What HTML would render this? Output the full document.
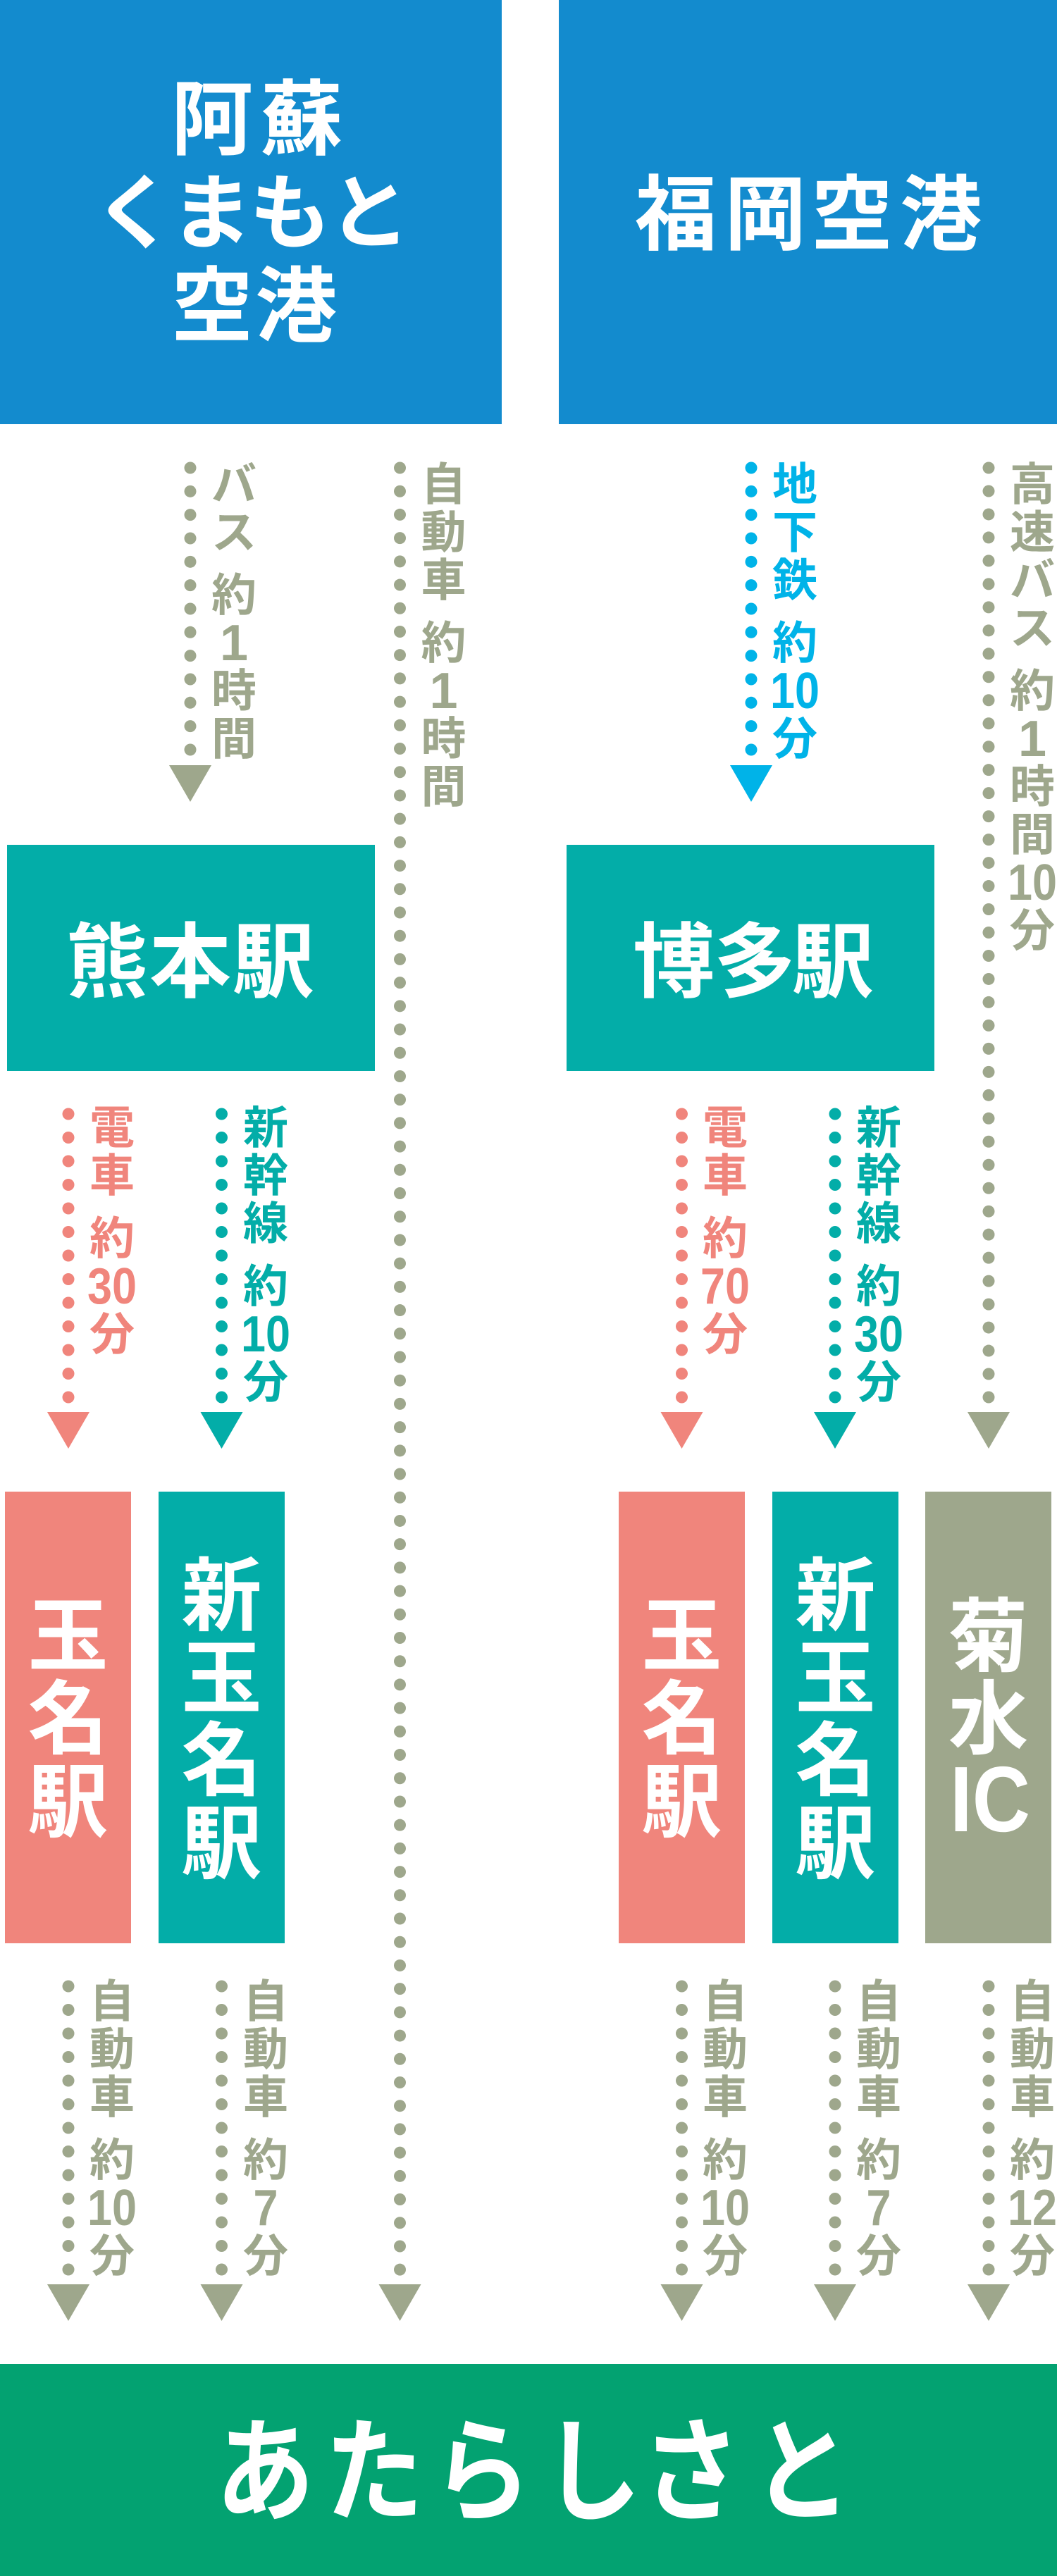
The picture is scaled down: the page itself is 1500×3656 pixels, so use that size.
<!DOCTYPE html>
<html>
<head>
<meta charset="utf-8">
<style>
  html,body{margin:0;padding:0;background:#fff;}
  svg{display:block;}
  .cj{font-family:"Liberation Sans","Noto Sans CJK JP",sans-serif;font-weight:700;}
  .dg{font-family:"Liberation Sans","Noto Sans CJK JP",sans-serif;font-weight:700;}
</style>
</head>
<body>
<svg width="1500" height="3656" viewBox="0 0 1500 3656" xmlns="http://www.w3.org/2000/svg">
  <rect x="0" y="0" width="1500" height="3656" fill="#ffffff"/>

  <!-- Top blue boxes -->
  <rect x="0" y="0" width="712" height="602" fill="#138bce"/>
  <rect x="793" y="0" width="707" height="602" fill="#138bce"/>

  <g class="cj" fill="#ffffff" font-size="116" text-anchor="middle">
    <text x="301" y="210">阿</text>
    <text x="428" y="210">蘇</text>
    <text x="191" y="343">く</text>
    <text x="300" y="343">ま</text>
    <text x="412" y="343">も</text>
    <text x="524" y="343">と</text>
    <text x="301" y="475">空</text>
    <text x="420" y="475">港</text>

    <text x="959" y="345">福</text>
    <text x="1086" y="345">岡</text>
    <text x="1209" y="345">空</text>
    <text x="1335" y="345">港</text>
  </g>

  <!-- Station boxes -->
  <rect x="10" y="1199" width="522" height="321" fill="#03ada8"/>
  <rect x="804" y="1199" width="522" height="321" fill="#03ada8"/>
  <g class="cj" fill="#ffffff" font-size="116" text-anchor="middle">
    <text x="152" y="1406">熊</text>
    <text x="270" y="1406">本</text>
    <text x="388" y="1406">駅</text>
    <text x="956" y="1406">博</text>
    <text x="1071" y="1406">多</text>
    <text x="1182" y="1406">駅</text>
  </g>

  <!-- Vertical destination boxes -->
  <rect x="7" y="2117" width="179" height="641" fill="#f0857c"/>
  <rect x="225" y="2117" width="179" height="641" fill="#03ada8"/>
  <rect x="878" y="2117" width="179" height="641" fill="#f0857c"/>
  <rect x="1096" y="2117" width="179" height="641" fill="#03ada8"/>
  <rect x="1313" y="2117" width="179" height="641" fill="#9ea78c"/>

  <g class="cj" fill="#ffffff" font-size="114" text-anchor="middle">
    <text x="96.5" y="2362">玉</text>
    <text x="96.5" y="2480">名</text>
    <text x="96.5" y="2598">駅</text>

    <text x="314.5" y="2305">新</text>
    <text x="314.5" y="2422">玉</text>
    <text x="314.5" y="2539">名</text>
    <text x="314.5" y="2657">駅</text>

    <text x="967.5" y="2362">玉</text>
    <text x="967.5" y="2480">名</text>
    <text x="967.5" y="2598">駅</text>

    <text x="1185.5" y="2305">新</text>
    <text x="1185.5" y="2422">玉</text>
    <text x="1185.5" y="2539">名</text>
    <text x="1185.5" y="2657">駅</text>

    <text x="1402.5" y="2363">菊</text>
    <text x="1402.5" y="2480">水</text>
  </g>
  <text class="dg" x="1405" y="2599" font-size="132" fill="#ffffff" text-anchor="middle" textLength="114" lengthAdjust="spacingAndGlyphs">IC</text>

  <!-- Bottom green box -->
  <rect x="0" y="3355" width="1500" height="301" fill="#03a271"/>
  <g class="cj" fill="#ffffff" font-size="140" text-anchor="middle" transform="translate(0,3504) scale(1,1.15) translate(0,-3504)">
    <text x="376" y="3557">あ</text>
    <text x="531" y="3557">た</text>
    <text x="684" y="3557">ら</text>
    <text x="840" y="3557">し</text>
    <text x="981" y="3557">さ</text>
    <text x="1138" y="3557">と</text>
  </g>

  <!-- Dotted connectors -->
  <g stroke-width="17" stroke-linecap="round" fill="none">
    <!-- top -->
    <line x1="270" y1="664" x2="270" y2="1064.5" stroke="#9ea78c" stroke-dasharray="0 33.33"/>
    <line x1="567.5" y1="664" x2="567.5" y2="3221.5" stroke="#9ea78c" stroke-dasharray="0 33.21"/>
    <line x1="1066" y1="664" x2="1066" y2="1064.5" stroke="#00b3e8" stroke-dasharray="0 33.33"/>
    <line x1="1403" y1="664" x2="1403" y2="1983.5" stroke="#9ea78c" stroke-dasharray="0 32.975"/>
    <!-- middle -->
    <line x1="97" y1="1581" x2="97" y2="1983.5" stroke="#f0857c" stroke-dasharray="0 33.5"/>
    <line x1="314.5" y1="1581" x2="314.5" y2="1983.5" stroke="#03ada8" stroke-dasharray="0 33.5"/>
    <line x1="967.5" y1="1581" x2="967.5" y2="1983.5" stroke="#f0857c" stroke-dasharray="0 33.5"/>
    <line x1="1185" y1="1581" x2="1185" y2="1983.5" stroke="#03ada8" stroke-dasharray="0 33.5"/>
    <!-- bottom -->
    <line x1="97" y1="2819" x2="97" y2="3221.5" stroke="#9ea78c" stroke-dasharray="0 33.5"/>
    <line x1="314.5" y1="2819" x2="314.5" y2="3221.5" stroke="#9ea78c" stroke-dasharray="0 33.5"/>
    <line x1="967.5" y1="2819" x2="967.5" y2="3221.5" stroke="#9ea78c" stroke-dasharray="0 33.5"/>
    <line x1="1185" y1="2819" x2="1185" y2="3221.5" stroke="#9ea78c" stroke-dasharray="0 33.5"/>
    <line x1="1403" y1="2819" x2="1403" y2="3221.5" stroke="#9ea78c" stroke-dasharray="0 33.5"/>
  </g>

  <!-- Arrowheads -->
  <polygon points="240,1086 300,1086 270,1138" fill="#9ea78c"/>
  <polygon points="1036,1086 1096,1086 1066,1138" fill="#00b3e8"/>

  <polygon points="67,2004 127,2004 97,2056" fill="#f0857c"/>
  <polygon points="284.5,2004 344.5,2004 314.5,2056" fill="#03ada8"/>
  <polygon points="937.5,2004 997.5,2004 967.5,2056" fill="#f0857c"/>
  <polygon points="1155,2004 1215,2004 1185,2056" fill="#03ada8"/>
  <polygon points="1373,2004 1433,2004 1403,2056" fill="#9ea78c"/>

  <polygon points="67,3242 127,3242 97,3294" fill="#9ea78c"/>
  <polygon points="284.5,3242 344.5,3242 314.5,3294" fill="#9ea78c"/>
  <polygon points="537.5,3242 597.5,3242 567.5,3294" fill="#9ea78c"/>
  <polygon points="937.5,3242 997.5,3242 967.5,3294" fill="#9ea78c"/>
  <polygon points="1155,3242 1215,3242 1185,3294" fill="#9ea78c"/>
  <polygon points="1373,3242 1433,3242 1403,3294" fill="#9ea78c"/>

  <!-- Connector labels: top -->
  <g class="cj" font-size="64" text-anchor="middle" fill="#9ea78c">
    <!-- バス 約1時間 -->
    <text x="332" y="710">バ</text>
    <text x="332" y="778">ス</text>
    <text x="332" y="867">約</text>
    <text x="332" y="1003">時</text>
    <text x="332" y="1071">間</text>
    <!-- 自動車 約1時間 -->
    <text x="629.5" y="710">自</text>
    <text x="629.5" y="778">動</text>
    <text x="629.5" y="846">車</text>
    <text x="629.5" y="935">約</text>
    <text x="629.5" y="1071">時</text>
    <text x="629.5" y="1139">間</text>
    <!-- 高速バス 約1時間10分 -->
    <text x="1465" y="710">高</text>
    <text x="1465" y="778">速</text>
    <text x="1465" y="846">バ</text>
    <text x="1465" y="914">ス</text>
    <text x="1465" y="1003">約</text>
    <text x="1465" y="1139">時</text>
    <text x="1465" y="1207">間</text>
    <text x="1465" y="1343">分</text>
  </g>
  <g class="dg" font-size="72" text-anchor="middle" fill="#9ea78c">
    <text x="332" y="937">1</text>
    <text x="629.5" y="1005">1</text>
    <text x="1465" y="1073">1</text>
    <text x="1465" y="1277" textLength="70" lengthAdjust="spacingAndGlyphs">10</text>
  </g>
  <g class="cj" font-size="64" text-anchor="middle" fill="#00b3e8">
    <text x="1128" y="710">地</text>
    <text x="1128" y="778">下</text>
    <text x="1128" y="846">鉄</text>
    <text x="1128" y="935">約</text>
    <text x="1128" y="1071">分</text>
  </g>
  <text class="dg" x="1128" y="1005" font-size="72" text-anchor="middle" fill="#00b3e8" textLength="70" lengthAdjust="spacingAndGlyphs">10</text>

  <!-- Connector labels: middle -->
  <g class="cj" font-size="64" text-anchor="middle" fill="#f0857c">
    <text x="159" y="1623">電</text>
    <text x="159" y="1691">車</text>
    <text x="159" y="1780">約</text>
    <text x="159" y="1916">分</text>
    <text x="1029" y="1623">電</text>
    <text x="1029" y="1691">車</text>
    <text x="1029" y="1780">約</text>
    <text x="1029" y="1916">分</text>
  </g>
  <g class="dg" font-size="72" text-anchor="middle" fill="#f0857c">
    <text x="159" y="1850" textLength="70" lengthAdjust="spacingAndGlyphs">30</text>
    <text x="1029" y="1850" textLength="70" lengthAdjust="spacingAndGlyphs">70</text>
  </g>
  <g class="cj" font-size="64" text-anchor="middle" fill="#03ada8">
    <text x="377" y="1623">新</text>
    <text x="377" y="1691">幹</text>
    <text x="377" y="1759">線</text>
    <text x="377" y="1848">約</text>
    <text x="377" y="1984">分</text>
    <text x="1247" y="1623">新</text>
    <text x="1247" y="1691">幹</text>
    <text x="1247" y="1759">線</text>
    <text x="1247" y="1848">約</text>
    <text x="1247" y="1984">分</text>
  </g>
  <g class="dg" font-size="72" text-anchor="middle" fill="#03ada8">
    <text x="377" y="1918" textLength="70" lengthAdjust="spacingAndGlyphs">10</text>
    <text x="1247" y="1918" textLength="70" lengthAdjust="spacingAndGlyphs">30</text>
  </g>

  <!-- Connector labels: bottom -->
  <g class="cj" font-size="64" text-anchor="middle" fill="#9ea78c">
    <text x="159" y="2863">自</text>
    <text x="159" y="2931">動</text>
    <text x="159" y="2999">車</text>
    <text x="159" y="3088">約</text>
    <text x="159" y="3224">分</text>

    <text x="377" y="2863">自</text>
    <text x="377" y="2931">動</text>
    <text x="377" y="2999">車</text>
    <text x="377" y="3088">約</text>
    <text x="377" y="3224">分</text>

    <text x="1029" y="2863">自</text>
    <text x="1029" y="2931">動</text>
    <text x="1029" y="2999">車</text>
    <text x="1029" y="3088">約</text>
    <text x="1029" y="3224">分</text>

    <text x="1247" y="2863">自</text>
    <text x="1247" y="2931">動</text>
    <text x="1247" y="2999">車</text>
    <text x="1247" y="3088">約</text>
    <text x="1247" y="3224">分</text>

    <text x="1465" y="2863">自</text>
    <text x="1465" y="2931">動</text>
    <text x="1465" y="2999">車</text>
    <text x="1465" y="3088">約</text>
    <text x="1465" y="3224">分</text>
  </g>
  <g class="dg" font-size="72" text-anchor="middle" fill="#9ea78c">
    <text x="159" y="3158" textLength="70" lengthAdjust="spacingAndGlyphs">10</text>
    <text x="377" y="3158" textLength="35" lengthAdjust="spacingAndGlyphs">7</text>
    <text x="1029" y="3158" textLength="70" lengthAdjust="spacingAndGlyphs">10</text>
    <text x="1247" y="3158" textLength="35" lengthAdjust="spacingAndGlyphs">7</text>
    <text x="1465" y="3158" textLength="70" lengthAdjust="spacingAndGlyphs">12</text>
  </g>
</svg>
</body>
</html>
